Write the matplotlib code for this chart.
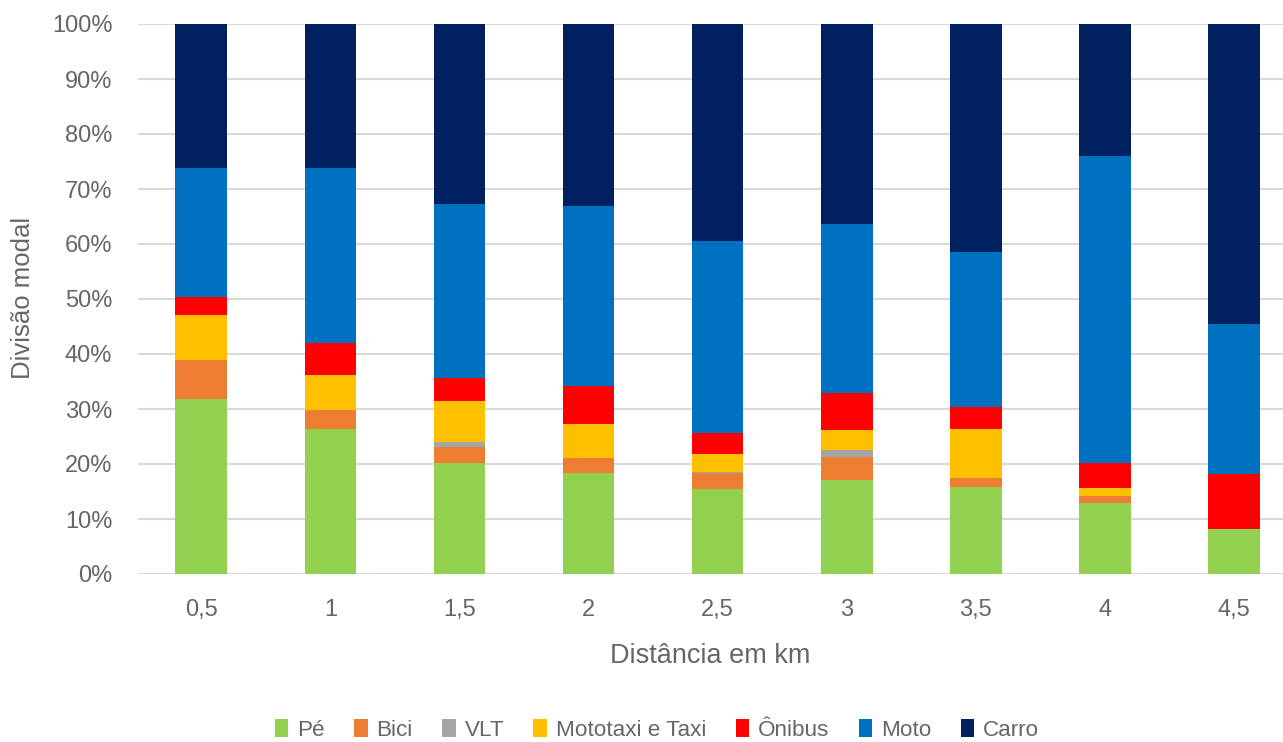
import matplotlib
matplotlib.use("Agg")
import matplotlib.pyplot as plt
import numpy as np

plt.rcParams['font.family'] = ['Liberation Sans', 'DejaVu Sans']

categories = ['0,5', '1', '1,5', '2', '2,5', '3', '3,5', '4', '4,5']
pe       = [31.8, 26.4, 20.2, 18.4, 15.5, 17.1, 15.8, 13.0, 8.2]
bici     = [7.2, 3.5, 2.9, 2.7, 2.8, 4.1, 1.7, 1.1, 0.0]
vlt      = [0.0, 0.0, 0.9, 0.0, 0.2, 1.3, 0.0, 0.0, 0.0]
mototaxi = [8.1, 6.2, 7.5, 6.2, 3.3, 3.6, 8.8, 1.5, 0.0]
onibus   = [3.2, 5.9, 4.1, 6.8, 3.8, 6.8, 4.1, 4.6, 10.0]
moto     = [23.5, 31.8, 31.7, 32.8, 34.9, 30.7, 28.1, 55.8, 27.3]
carro    = [26.2, 26.2, 32.7, 33.1, 39.5, 36.4, 41.5, 24.0, 54.5]

series = [
    ('Pé', pe, '#92D050'),
    ('Bici', bici, '#ED7D31'),
    ('VLT', vlt, '#A5A5A5'),
    ('Mototaxi e Taxi', mototaxi, '#FFC000'),
    ('Ônibus', onibus, '#FF0000'),
    ('Moto', moto, '#0070C0'),
    ('Carro', carro, '#002060'),
]

text_col = '#666666'

fig = plt.figure(figsize=(12.83, 7.42), dpi=100)
ax = fig.add_axes([138/1283, 168/742, 1 - 138/1283, 550/742])

x = np.arange(len(categories))
bottom = np.zeros(len(categories))
for name, vals, col in series:
    v = np.array(vals, dtype=float)
    ax.bar(x, v, 0.4, bottom=bottom, color=col, label=name, linewidth=0, zorder=3)
    bottom += v

ax.set_ylim(0, 100)
ax.set_xlim(-0.49, 8.38)
ax.set_yticks(np.arange(0, 101, 10))
ax.set_yticklabels([f'{t}%' for t in range(0, 101, 10)])
ax.set_xticks(x)
ax.set_xticklabels(categories)
ax.yaxis.grid(True, color='#D9D9D9', linewidth=1.5, zorder=0)
ax.set_axisbelow(True)
for s in ax.spines.values():
    s.set_visible(False)
ax.tick_params(axis='both', length=0, colors=text_col, labelsize=17)
ax.tick_params(axis='y', pad=18.5)
ax.tick_params(axis='x', pad=18)

ax.set_ylabel('Divisão modal', fontsize=18.5, color=text_col)
ax.yaxis.set_label_coords((35 - 138) / (1283 - 138), (574 - 298) / 550)
ax.set_xlabel('Distância em km', fontsize=19.5, color=text_col, labelpad=16)

fig.legend(loc='center', bbox_to_anchor=(657/1283, 12/742), ncol=7, frameon=False,
           fontsize=16.2, labelcolor=text_col, handlelength=0.6, handleheight=0.8,
           handletextpad=0.4, columnspacing=1.3)

fig.savefig('out.png', dpi=100)
